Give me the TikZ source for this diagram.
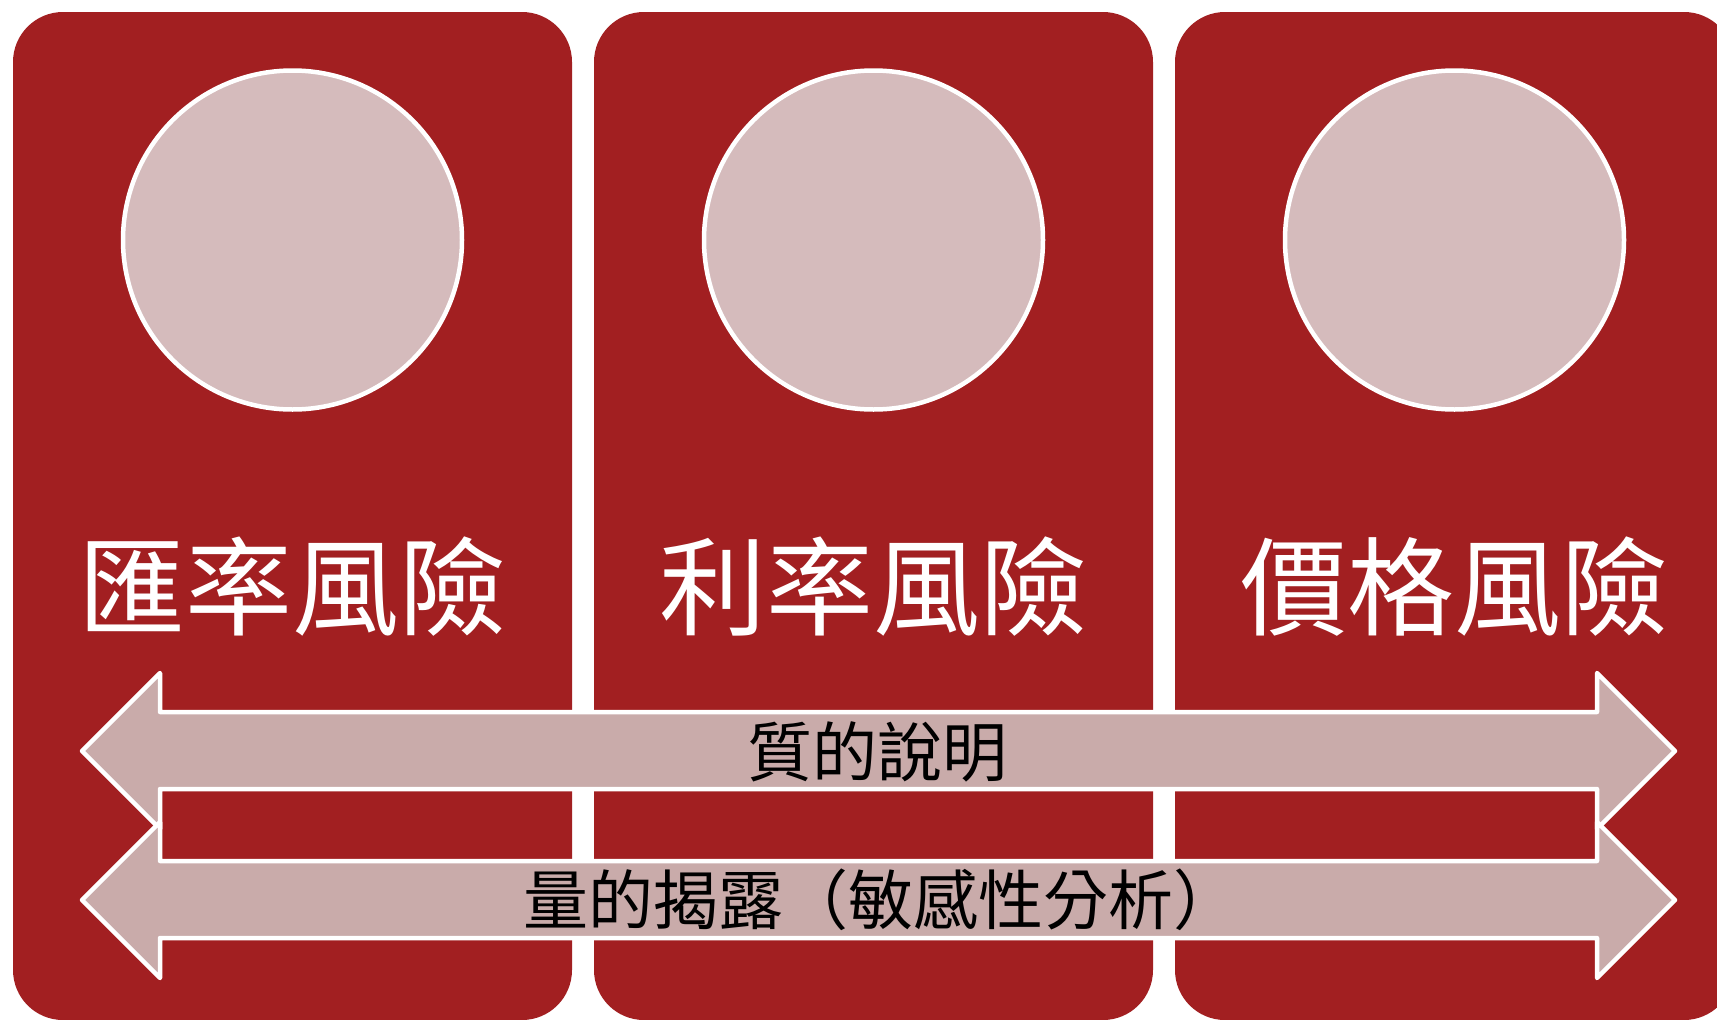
\documentclass[tikz,border=0pt]{standalone}
\usepackage{fontspec}
\newfontfamily\cjk{Noto Sans CJK TC}
\definecolor{cardred}{HTML}{A21F21}
\definecolor{circfill}{HTML}{D5BBBC}
\definecolor{arrfill}{HTML}{C9ABAA}
\tikzset{
  card/.style={fill=cardred, draw=none, rounded corners=50pt, minimum width=559pt, minimum height=1008pt, inner sep=0pt},
  circ/.style={circle, fill=circfill, draw=white, line width=4.5pt, minimum size=339pt, inner sep=0pt},
  lbl/.style={font=\cjk\fontsize{107}{112}\selectfont, text=white, inner sep=0pt},
  arrlbl/.style={font=\cjk\fontsize{65}{70}\selectfont, text=black, inner sep=0pt},
  blockarrow/.style={fill=arrfill, draw=white, line width=4.5pt, line join=round}
}
\begin{document}
\begin{tikzpicture}[x=1pt,y=-1pt]
\useasboundingbox (0,0) rectangle (1717,1020);
\clip (0,0) rectangle (1717,1020);
\fill[white] (0,0) rectangle (1717,1020);
% cards
\node[card] (c1) at (292.5,516) {};
\node[card] (c2) at (873.5,516) {};
\node[card] (c3) at (1454.5,516) {};
% circles
\node[circ] (o1) at (292.5,240) {};
\node[circ] (o2) at (873.5,240) {};
\node[circ] (o3) at (1454.5,240) {};
% labels
\node[lbl] (t1) at (292.5,587) {匯率風險};
\node[lbl] (t2) at (873.5,587) {利率風險};
\node[lbl] (t3) at (1454.5,587) {價格風險};
% upper double arrow
\coordinate (aL) at (82,751);
\coordinate (aR) at (1675,751);
\path[blockarrow] (aL) -- (160,673) -- (160,712) -- (1597,712) -- (1597,673) -- (aR)
  -- (1597,829) -- (1597,789) -- (160,789) -- (160,829) -- cycle;
% lower double arrow
\coordinate (bL) at (82,900);
\coordinate (bR) at (1675,900);
\path[blockarrow] (bL) -- (160,822) -- (160,861) -- (1597,861) -- (1597,822) -- (bR)
  -- (1597,978) -- (1597,938) -- (160,938) -- (160,978) -- cycle;
% arrow labels
\node[arrlbl] (q1) at (877,752) {質的說明};
\node[arrlbl] (q2) at (881,900) {量的揭露（敏感性分析）};
\end{tikzpicture}
\end{document}
